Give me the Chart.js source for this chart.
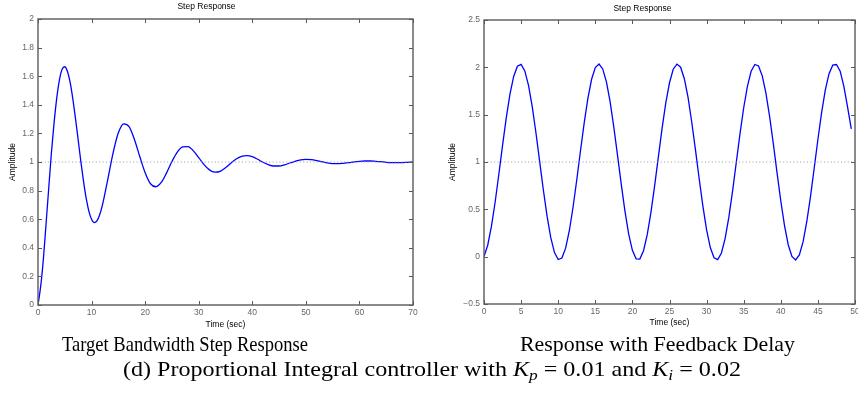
<!DOCTYPE html>
<html><head><meta charset="utf-8">
<script src="https://cdn.jsdelivr.net/npm/chart.js@4/dist/chart.umd.min.js"></script>
<style>
html,body{margin:0;padding:0;background:#fff;overflow:hidden;width:858px;height:398px;}
#wrap{position:relative;width:858px;height:398px;overflow:hidden;}
canvas{position:absolute;top:0;}
#c1{left:0;}
#c2{left:430px;}
.cap{position:absolute;font-family:"Liberation Serif","Times New Roman",serif;font-size:21.5px;color:#000;white-space:nowrap;line-height:1;transform-origin:0 0;}
.cap sub{font-size:0.72em;vertical-align:-0.28em;line-height:0;}
</style></head><body>
<div id="wrap">
<canvas id="c1" width="430" height="335"></canvas>
<canvas id="c2" width="440" height="335"></canvas>
<div class="cap" id="cap1" style="top:334px">Target Bandwidth Step Response</div>
<div class="cap" id="cap2" style="top:334px">Response with Feedback Delay</div>
<div class="cap" id="cap3" style="top:359px">(d) Proportional Integral controller with <i>K</i><sub><i>p</i></sub> = 0.01 and <i>K</i><sub><i>i</i></sub> = 0.02</div>
</div>
<script>
// ---- Data ----
const chartTitle = 'Step Response';
const xAxisLabel = 'Time (sec)';
const yAxisLabel = 'Amplitude';
const steadyState = 1;

// Left: Target bandwidth step response
const leftTimes = [0,0.5,1,1.5,2,2.5,3,3.5,4,4.5,5,5.5,6,6.5,7,7.5,8,8.5,9,9.5,10,10.5,11,11.5,12,
  13,14,15,16,17,18,19,20,21,22,23,24,25,26,27,28,29,30,31,32,33,34,35,36,37,38,39,40,
  41,42,43,44,45,46,47,48,49,50,51,52,53,54,55,56,57,58,59,60,61,62,63,64,65,66,67,68,69,70];
const leftAmplitude = [0,0.13,0.32,0.565,0.815,1.063,1.274,1.447,1.574,1.648,1.666,1.633,1.556,1.441,1.303,1.155,1.003,0.865,0.745,0.655,0.600,0.576,0.588,0.629,0.695,
  0.874,1.061,1.204,1.267,1.247,1.158,1.038,0.925,0.848,0.827,0.857,0.924,1.003,1.069,1.106,1.108,1.078,1.031,0.982,0.945,0.929,0.935,0.960,0.992,1.021,1.040,1.045,1.037,
  1.019,0.998,0.981,0.972,0.972,0.980,0.993,1.005,1.015,1.018,1.016,1.010,1.002,0.994,0.989,0.988,0.991,0.995,1.001,1.005,1.007,1.007,1.005,1.002,0.998,0.996,0.995,0.996,0.998,1.000];
const leftXTicks = [0,10,20,30,40,50,60,70];
const leftYTicks = [0,0.2,0.4,0.6,0.8,1,1.2,1.4,1.6,1.8,2];

// Right: Response with feedback delay
const rightTimes = [0,0.5,1,1.5,2,2.5,3,3.5,4,4.5,5,5.5,6,6.5,7,7.5,8,8.5,9,9.5,
  10,10.5,11,11.5,12,12.5,13,13.5,14,14.5,15,15.5,16,16.5,17,17.5,18,18.5,19,19.5,
  20,20.5,21,21.5,22,22.5,23,23.5,24,24.5,25,25.5,26,26.5,27,27.5,28,28.5,29,29.5,
  30,30.5,31,31.5,32,32.5,33,33.5,34,34.5,35,35.5,36,36.5,37,37.5,38,38.5,39,39.5,
  40,40.5,41,41.5,42,42.5,43,43.5,44,44.5,45,45.5,46,46.5,47,47.5,48,48.5,49,49.5];
const rightAmplitude = [0.000,0.121,0.319,0.575,0.871,1.176,1.466,1.716,1.904,2.011,
  2.031,1.962,1.809,1.584,1.309,1.006,0.704,0.428,0.200,0.043,
  -0.030,-0.014,0.090,0.274,0.522,0.810,1.116,1.411,1.671,1.874,
  1.998,2.035,1.983,1.847,1.635,1.366,1.067,0.763,0.478,0.239,
  0.067,-0.023,-0.025,0.063,0.232,0.468,0.751,1.055,1.355,1.624,
  1.837,1.980,2.034,2.001,1.880,1.682,1.420,1.128,0.823,0.533,
  0.283,0.096,-0.012,-0.031,0.039,0.193,0.417,0.693,0.995,1.297,
  1.573,1.800,1.958,2.030,2.014,1.910,1.725,1.476,1.188,0.883,
  0.588,0.328,0.126,0.003,-0.035,0.018,0.156,0.369,0.635,0.934,
  1.238,1.522,1.761,1.933,2.023,2.030,1.960,1.800,1.580,1.350];
const rightXTicks = [0,5,10,15,20,25,30,35,40,45,50];
const rightYTicks = [-0.5,0,0.5,1,1.5,2,2.5];

// ---- Rendering ----
const FONT = '"Liberation Sans", Arial, Helvetica, sans-serif';
const TICK_COLOR = '#666';
const FRAME_COLOR = '#5a5a5a';

const frameTicks = {
  id: 'frameTicks',
  afterDatasetsDraw(chart) {
    const {ctx, chartArea: a, scales: {x, y}} = chart;
    const L = 4;
    ctx.save();
    ctx.strokeStyle = FRAME_COLOR;
    ctx.lineWidth = 1;
    ctx.beginPath();
    x.ticks.forEach(t => {
      const px = Math.round(x.getPixelForValue(t.value)) + 0.5;
      ctx.moveTo(px, a.bottom); ctx.lineTo(px, a.bottom - L);
      ctx.moveTo(px, a.top); ctx.lineTo(px, a.top + L);
    });
    y.ticks.forEach(t => {
      const py = Math.round(y.getPixelForValue(t.value)) + 0.5;
      ctx.moveTo(a.left, py); ctx.lineTo(a.left + L, py);
      ctx.moveTo(a.right, py); ctx.lineTo(a.right - L, py);
    });
    ctx.stroke();
    ctx.lineWidth = 1.4;
    ctx.strokeRect(a.left, a.top, a.right - a.left, a.bottom - a.top);
    ctx.restore();
  }
};

function fmt(v) {
  const s = String(Math.round(v * 100) / 100);
  return s.replace('-', '\u2212');
}

function makeChart(id, times, amps, xTicks, yTicks, geo, smooth) {
  const pts = times.map((t, i) => ({x: t, y: amps[i]}));
  const xMin = xTicks[0], xMax = xTicks[xTicks.length - 1];
  const yMin = yTicks[0], yMax = yTicks[yTicks.length - 1];
  return new Chart(document.getElementById(id), {
    type: 'line',
    data: {
      datasets: [
        {
          data: [{x: xMin, y: steadyState}, {x: xMax, y: steadyState}],
          borderColor: '#9a9a9a', borderWidth: 1, borderDash: [1, 2.4],
          pointRadius: 0, fill: false, tension: 0
        },
        {
          data: pts,
          borderColor: '#0000ff', borderWidth: 1.3,
          pointRadius: 0, fill: false,
          tension: smooth ? 0.4 : 0,
          cubicInterpolationMode: smooth ? 'monotone' : 'default'
        }
      ]
    },
    options: {
      responsive: false,
      animation: false,
      events: [],
      layout: {padding: {left: 0, right: geo.padRight, top: 0, bottom: 0}},
      plugins: {
        legend: {display: false},
        tooltip: {enabled: false},
        title: {
          display: true, text: chartTitle, color: '#000',
          font: {family: FONT, size: 8.5, weight: 'normal', lineHeight: 1},
          padding: {top: geo.titleTop, bottom: geo.titleBottom}
        }
      },
      scales: {
        x: {
          type: 'linear', min: xMin, max: xMax,
          afterBuildTicks: s => { s.ticks = xTicks.map(v => ({value: v})); },
          ticks: {color: TICK_COLOR, font: {family: FONT, size: 8.5}, padding: 3,
                  maxRotation: 0, autoSkip: false, callback: v => fmt(v)},
          grid: {display: false, drawTicks: false},
          border: {display: false},
          title: {display: true, text: xAxisLabel, color: '#000',
                  font: {family: FONT, size: 8.5}, padding: {top: 0, bottom: geo.xTitlePad}},
          afterFit: s => { s.height = geo.xHeight; }
        },
        y: {
          type: 'linear', min: yMin, max: yMax,
          afterBuildTicks: s => { s.ticks = yTicks.map(v => ({value: v})); },
          ticks: {color: TICK_COLOR, font: {family: FONT, size: 8.5}, padding: 4,
                  autoSkip: false, callback: v => fmt(v)},
          grid: {display: false, drawTicks: false},
          border: {display: false},
          title: {display: true, text: yAxisLabel, color: '#000',
                  font: {family: FONT, size: 8.5}, padding: {top: geo.yTitlePad, bottom: 0}},
          afterFit: s => { s.width = geo.yWidth; }
        }
      }
    },
    plugins: [frameTicks]
  });
}

makeChart('c1', leftTimes, leftAmplitude, leftXTicks, leftYTicks,
  {padRight: 17, titleTop: 2.75, titleBottom: 7.75, xHeight: 30, xTitlePad: 4.9, yWidth: 38, yTitlePad: 7.9}, true);
makeChart('c2', rightTimes, rightAmplitude, rightXTicks, rightYTicks,
  {padRight: 15, titleTop: 4.75, titleBottom: 6.75, xHeight: 31, xTitlePad: 6.9, yWidth: 54, yTitlePad: 17.9}, false);

function fitCaption(id, left, right) {
  const el = document.getElementById(id);
  el.style.left = left + 'px';
  el.style.transform = 'none';
  const w = el.getBoundingClientRect().width;
  el.style.transform = 'scaleX(' + ((right - left) / w) + ')';
}
function fitAll() {
  fitCaption('cap1', 62, 308);
  fitCaption('cap2', 520, 795);
  fitCaption('cap3', 123, 741);
}
fitAll();
if (document.fonts && document.fonts.ready) document.fonts.ready.then(fitAll);
</script>
</body></html>
